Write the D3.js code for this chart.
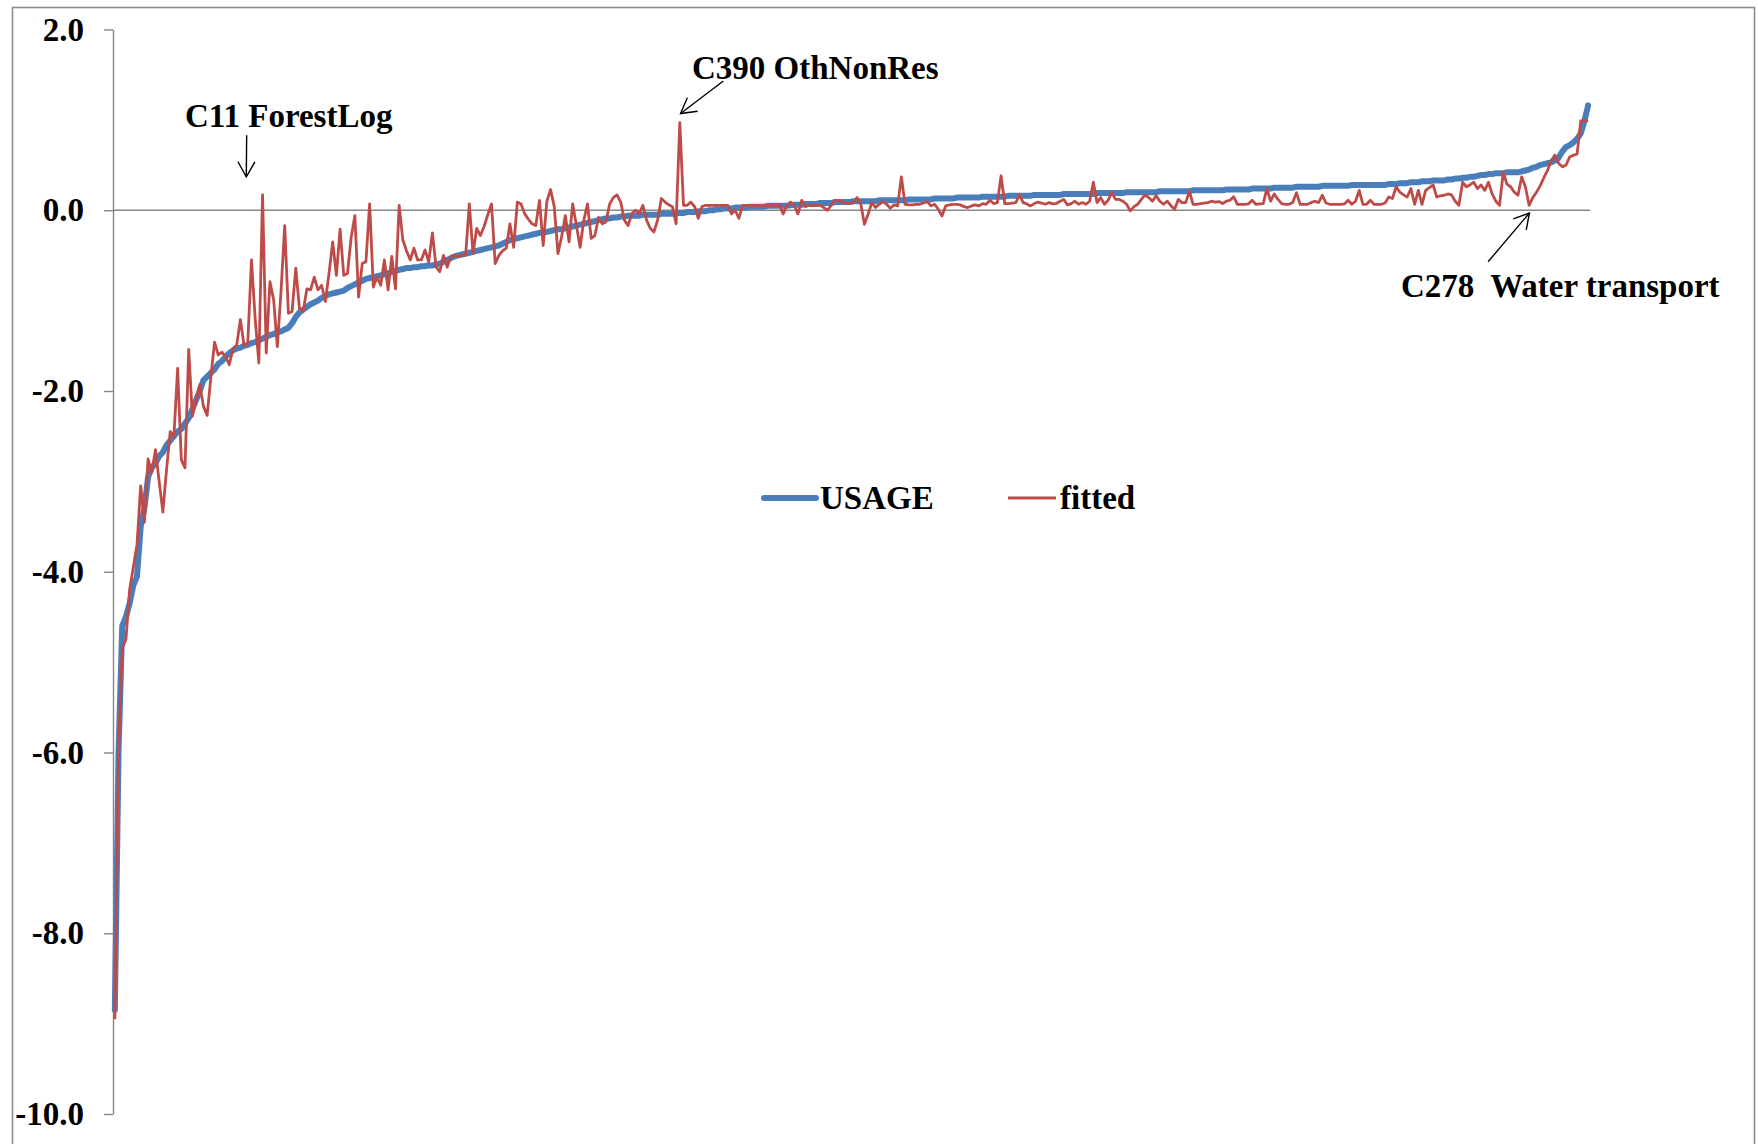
<!DOCTYPE html>
<html>
<head>
<meta charset="utf-8">
<script src="https://cdn.jsdelivr.net/npm/d3@7"></script>
<style>
  html, body { margin: 0; padding: 0; background: #fff; }
  svg { display: block; }
  text { font-family: "Liberation Serif", "Times New Roman", serif; font-weight: bold; fill: #000; }
</style>
</head>
<body>
<div id="container"></div>
<script>
// USAGE values, sorted ascending (one per commodity)
const usage = [
  -8.85, -6.0, -4.6, -4.5, -4.35, -4.15, -4.05, -3.5, -3.3, -2.95,
  -2.85, -2.8, -2.72, -2.68, -2.6, -2.55, -2.5, -2.45, -2.42, -2.36,
  -2.3, -2.2, -2.1, -2.0, -1.88, -1.84, -1.8, -1.76, -1.7, -1.67,
  -1.62, -1.58, -1.55, -1.53, -1.52, -1.5, -1.49, -1.47, -1.46, -1.44,
  -1.42, -1.4, -1.38, -1.37, -1.35, -1.34, -1.32, -1.3, -1.25, -1.18,
  -1.13, -1.1, -1.07, -1.04, -1.02, -1.0, -0.97, -0.95, -0.93, -0.92,
  -0.91, -0.9, -0.89, -0.86, -0.84, -0.82, -0.8, -0.78, -0.76, -0.75,
  -0.74, -0.73, -0.72, -0.71, -0.7, -0.68, -0.67, -0.66, -0.65, -0.64,
  -0.64, -0.63, -0.63, -0.62, -0.62, -0.61, -0.61, -0.6, -0.59, -0.57,
  -0.55, -0.53, -0.51, -0.5, -0.49, -0.48, -0.47, -0.46, -0.45, -0.44,
  -0.43, -0.42, -0.41, -0.4, -0.39, -0.37, -0.35, -0.33, -0.32, -0.31,
  -0.3, -0.29, -0.28, -0.27, -0.26, -0.25, -0.25, -0.24, -0.23, -0.22,
  -0.21, -0.21, -0.2, -0.19, -0.18, -0.17, -0.16, -0.15, -0.14, -0.13,
  -0.12, -0.11, -0.1, -0.09, -0.09, -0.08, -0.08, -0.07, -0.07, -0.06,
  -0.06, -0.06, -0.06, -0.05, -0.05, -0.05, -0.05, -0.05, -0.04, -0.04,
  -0.04, -0.04, -0.03, -0.03, -0.03, -0.02, -0.02, -0.02, -0.01, -0.01,
  -0.01, 0.0, 0.0, 0.01, 0.01, 0.02, 0.02, 0.02, 0.03, 0.03,
  0.03, 0.03, 0.04, 0.04, 0.04, 0.04, 0.04, 0.05, 0.05, 0.05,
  0.05, 0.05, 0.05, 0.055, 0.06, 0.06, 0.06, 0.07, 0.07, 0.07,
  0.07, 0.08, 0.08, 0.08, 0.08, 0.09, 0.09, 0.09, 0.09, 0.09,
  0.1, 0.1, 0.1, 0.1, 0.1, 0.1, 0.1, 0.11, 0.11, 0.11,
  0.11, 0.11, 0.11, 0.11, 0.11, 0.12, 0.12, 0.12, 0.12, 0.12,
  0.12, 0.12, 0.13, 0.13, 0.13, 0.13, 0.13, 0.13, 0.14, 0.14,
  0.14, 0.14, 0.14, 0.14, 0.14, 0.15, 0.15, 0.15, 0.15, 0.15,
  0.15, 0.15, 0.16, 0.16, 0.16, 0.16, 0.16, 0.16, 0.16, 0.17,
  0.17, 0.17, 0.17, 0.17, 0.17, 0.17, 0.17, 0.18, 0.18, 0.18,
  0.18, 0.18, 0.18, 0.18, 0.18, 0.18, 0.19, 0.19, 0.19, 0.19,
  0.19, 0.19, 0.19, 0.19, 0.2, 0.2, 0.2, 0.2, 0.2, 0.2,
  0.2, 0.2, 0.2, 0.21, 0.21, 0.21, 0.21, 0.21, 0.21, 0.21,
  0.21, 0.21, 0.22, 0.22, 0.22, 0.22, 0.22, 0.22, 0.22, 0.22,
  0.22, 0.23, 0.23, 0.23, 0.23, 0.23, 0.23, 0.23, 0.24, 0.24,
  0.24, 0.24, 0.24, 0.24, 0.25, 0.25, 0.25, 0.25, 0.25, 0.25,
  0.26, 0.26, 0.26, 0.26, 0.26, 0.26, 0.26, 0.27, 0.27, 0.27,
  0.27, 0.27, 0.27, 0.27, 0.27, 0.28, 0.28, 0.28, 0.28, 0.28,
  0.28, 0.28, 0.28, 0.28, 0.28, 0.29, 0.29, 0.29, 0.3, 0.3,
  0.3, 0.31, 0.31, 0.31, 0.32, 0.32, 0.32, 0.33, 0.33, 0.33,
  0.33, 0.34, 0.34, 0.35, 0.35, 0.36, 0.36, 0.37, 0.37, 0.38,
  0.39, 0.39, 0.4, 0.4, 0.41, 0.41, 0.41, 0.42, 0.42, 0.42,
  0.42, 0.43, 0.44, 0.45, 0.47, 0.48, 0.5, 0.51, 0.52, 0.53,
  0.55, 0.58, 0.65, 0.7, 0.72, 0.75, 0.79, 0.85, 0.99, 1.16
];

// fitted values, same commodity order
const fitted = [
  -8.95, -6.0, -4.85, -4.75, -4.2, -3.95, -3.7, -3.05, -3.45, -2.75,
  -2.9, -2.65, -3.0, -3.34, -2.87, -2.45, -2.5, -1.75, -2.76, -2.85,
  -1.54, -2.28, -2.1, -1.93, -2.17, -2.27, -1.85, -1.46, -1.6, -1.57,
  -1.62, -1.71, -1.53, -1.49, -1.21, -1.5, -1.47, -0.55, -1.2, -1.69,
  0.17, -1.58, -0.79, -0.99, -1.51, -0.9, -0.17, -1.14, -1.12, -0.64,
  -1.09, -1.12, -0.87, -0.88, -0.74, -0.88, -0.83, -1.01, -0.7, -0.35,
  -0.72, -0.21, -0.72, -0.7, -0.3, -0.06, -0.96, -0.59, -0.57, 0.07,
  -0.85, -0.74, -0.83, -0.55, -0.88, -0.51, -0.87, 0.055, -0.33, -0.45,
  -0.55, -0.42, -0.55, -0.55, -0.44, -0.57, -0.25, -0.63, -0.68, -0.5,
  -0.63, -0.51, -0.5, -0.51, -0.5, -0.5, 0.07, -0.48, -0.2, -0.28,
  -0.18, -0.05, 0.07, -0.59, -0.5, -0.45, -0.42, -0.15, -0.41, 0.09,
  0.07, -0.04, -0.1, -0.15, -0.17, 0.11, -0.39, 0.1, 0.23, 0.04,
  -0.48, -0.29, -0.06, -0.35, 0.07, -0.17, -0.41, -0.11, 0.07, -0.31,
  -0.28, -0.08, -0.15, -0.13, 0.07, 0.14, 0.17, 0.09, -0.11, -0.17,
  -0.04, 0.0, -0.04, 0.055, -0.11, -0.2, -0.24, -0.11, 0.13, 0.09,
  0.06, 0.04, -0.15, 0.97, 0.055, 0.055, 0.09, 0.04, -0.09, 0.04,
  0.055, 0.055, 0.055, 0.055, 0.055, 0.055, 0.055, -0.04, 0.0, -0.09,
  0.055, 0.055, 0.055, 0.055, 0.055, 0.055, 0.055, 0.055, 0.055, 0.055,
  0.055, -0.04, 0.055, 0.09, 0.055, -0.04, 0.11, 0.04, 0.055, 0.055,
  0.055, 0.055, 0.03, 0.0, 0.055, 0.11, 0.11, 0.09, 0.08, 0.075,
  0.085, 0.14, 0.074, -0.155, -0.044, 0.085, 0.03, 0.066, 0.096, 0.066,
  0.022, 0.059, 0.048, 0.37, 0.066, 0.059, 0.059, 0.066, 0.066, 0.08,
  0.096, 0.048, 0.066, 0.011, -0.063, 0.048, 0.059, 0.066, 0.066, 0.059,
  0.04, 0.03, 0.048, 0.059, 0.048, 0.074, 0.066, 0.11, 0.074, 0.085,
  0.38, 0.074, 0.074, 0.08, 0.085, 0.17, 0.085, 0.07, 0.048, 0.074,
  0.09, 0.08, 0.066, 0.085, 0.07, 0.075, 0.1, 0.12, 0.059, 0.074,
  0.1, 0.066, 0.085, 0.066, 0.1, 0.31, 0.085, 0.14, 0.066, 0.11,
  0.195, 0.12, 0.12, 0.1, 0.066, -0.007, 0.04, 0.066, 0.12, 0.17,
  0.14, 0.1, 0.16, 0.1, 0.066, 0.1, 0.05, 0.011, 0.12, 0.085,
  0.085, 0.21, 0.066, 0.066, 0.074, 0.08, 0.085, 0.1, 0.09, 0.096,
  0.074, 0.1, 0.11, 0.15, 0.066, 0.066, 0.066, 0.07, 0.11, 0.066,
  0.07, 0.074, 0.24, 0.1, 0.18, 0.12, 0.074, 0.066, 0.066, 0.085,
  0.195, 0.066, 0.066, 0.066, 0.085, 0.1, 0.085, 0.166, 0.08, 0.066,
  0.066, 0.066, 0.066, 0.07, 0.11, 0.066, 0.1, 0.22, 0.066, 0.066,
  0.11, 0.066, 0.066, 0.066, 0.08, 0.147, 0.13, 0.26, 0.2, 0.17,
  0.147, 0.24, 0.066, 0.22, 0.066, 0.22, 0.25, 0.28, 0.147, 0.16,
  0.166, 0.18, 0.17, 0.1, 0.055, 0.31, 0.26, 0.28, 0.31, 0.24,
  0.28, 0.22, 0.31, 0.18, 0.1, 0.055, 0.42, 0.29, 0.26, 0.2,
  0.166, 0.37, 0.26, 0.055, 0.14, 0.2, 0.27, 0.36, 0.44, 0.55,
  0.61, 0.52, 0.48, 0.5, 0.59, 0.61, 0.62, 0.99, 0.99, 0.99
];

const yTicks = [-10, -8, -6, -4, -2, 0, 2];
const seriesNames = ["USAGE", "fitted"];
const seriesColors = ["#4a7ebb", "#be4b48"];

// callouts: label, arrow tail / tip and text anchor, in (index, value)
const noteLabels = ["C11 ForestLog", "C390 OthNonRes", "C278  Water transport"];
const noteTails = [[35.7, 0.83], [164.8, 1.43], [371.9, -0.57]];
const noteTips = [[35.6, 0.37], [153.2, 1.07], [383.1, -0.03]];
const noteText = [[19.0, 0.92], [156.3, 1.45], [348.3, -0.96]];

const width = 1758;
const height = 1144;

const x = d3.scaleLinear()
    .domain([-0.5, usage.length - 0.5])
    .range([113, 1590]);

const y = d3.scaleLinear()
    .domain([-10, 2])
    .range([1114, 29.5]);

const svg = d3.create("svg")
    .attr("width", width)
    .attr("height", height)
    .attr("viewBox", [0, 0, width, height]);

svg.append("rect")
    .attr("width", width).attr("height", height)
    .attr("fill", "#fff");

// chart area border (bottom edge runs off the picture)
svg.append("rect")
    .attr("x", 12.5).attr("y", 7.5)
    .attr("width", 1742).attr("height", 1200)
    .attr("fill", "none")
    .attr("stroke", "#8c8c8c")
    .attr("stroke-width", 1.6);

// y axis
const yAxis = svg.append("g")
    .attr("transform", `translate(${x.range()[0]},0)`)
    .call(d3.axisLeft(y)
        .tickValues(yTicks)
        .tickSize(9)
        .tickSizeOuter(0)
        .tickPadding(20)
        .tickFormat(d => d.toFixed(1)));
yAxis.select(".domain").attr("stroke", "#878787").attr("stroke-width", 1.4);
yAxis.selectAll(".tick line").attr("stroke", "#878787").attr("stroke-width", 1.4);
yAxis.selectAll(".tick text")
    .attr("fill", "#000")
    .style("font-size", "33px")
    .style("font-family", "'Liberation Serif', 'Times New Roman', serif")
    .style("font-weight", "bold");

// category axis at zero
svg.append("line")
    .attr("x1", x.range()[0]).attr("x2", x.range()[1])
    .attr("y1", y(0)).attr("y2", y(0))
    .attr("stroke", "#878787")
    .attr("stroke-width", 1.4);

const line = d3.line()
    .x((d, i) => x(i))
    .y(d => y(d));

svg.append("path")
    .datum(usage)
    .attr("fill", "none")
    .attr("stroke", seriesColors[0])
    .attr("stroke-width", 6)
    .attr("stroke-linejoin", "round")
    .attr("stroke-linecap", "round")
    .attr("d", line);

svg.append("path")
    .datum(fitted)
    .attr("fill", "none")
    .attr("stroke", seriesColors[1])
    .attr("stroke-width", 2.8)
    .attr("stroke-linejoin", "round")
    .attr("d", line);

// arrow head
svg.append("defs").append("marker")
    .attr("id", "arrow")
    .attr("viewBox", "-17 -11 19 22")
    .attr("refX", 0).attr("refY", 0)
    .attr("markerWidth", 19).attr("markerHeight", 22)
    .attr("markerUnits", "userSpaceOnUse")
    .attr("orient", "auto")
  .append("path")
    .attr("d", "M-15,-8.5L0,0L-15,8.5")
    .attr("fill", "none")
    .attr("stroke", "#000")
    .attr("stroke-width", 1.4);

const notes = svg.append("g");
noteLabels.forEach((label, k) => {
  notes.append("line")
      .attr("x1", x(noteTails[k][0])).attr("y1", y(noteTails[k][1]))
      .attr("x2", x(noteTips[k][0])).attr("y2", y(noteTips[k][1]))
      .attr("stroke", "#000")
      .attr("stroke-width", 1.4)
      .attr("marker-end", "url(#arrow)");
  notes.append("text")
      .attr("x", x(noteText[k][0]))
      .attr("y", y(noteText[k][1]))
      .style("font-size", "33px")
      .style("white-space", "pre")
      .text(label);
});

// legend
const legend = svg.append("g");
const legendX = [[764, 816, 820], [1008, 1056, 1060]];
seriesNames.forEach((name, k) => {
  legend.append("line")
      .attr("x1", legendX[k][0]).attr("x2", legendX[k][1])
      .attr("y1", 498).attr("y2", 498)
      .attr("stroke", seriesColors[k])
      .attr("stroke-width", k === 0 ? 6 : 3)
      .attr("stroke-linecap", k === 0 ? "round" : "butt");
  legend.append("text")
      .attr("x", legendX[k][2])
      .attr("y", 509)
      .style("font-size", "33px")
      .text(name);
});

document.getElementById("container").append(svg.node());
</script>
</body>
</html>
